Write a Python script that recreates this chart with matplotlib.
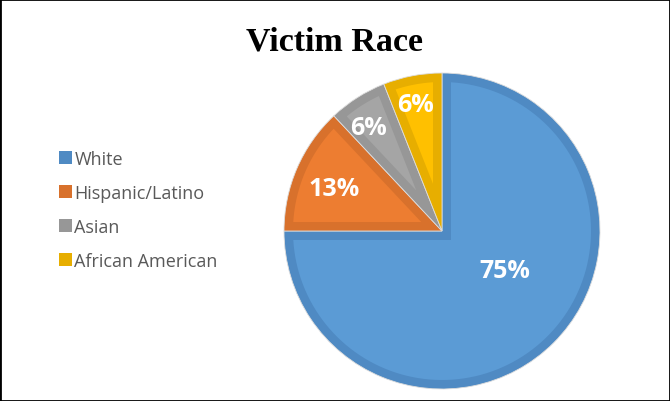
import numpy as np
import matplotlib.pyplot as plt
from matplotlib.patches import Polygon, Rectangle

# Victim race breakdown (percent)
races = ['White', 'Hispanic/Latino', 'Asian', 'African American']
shares = [75, 13, 6, 6]

fill_colors = ['#5B9BD5', '#ED7D31', '#A5A5A5', '#FFC000']
edge_colors = ['#4F8AC3', '#D8712C', '#979797', '#E7AE00']

fig = plt.figure(figsize=(6.7, 4.02), dpi=100)
ax = fig.add_axes([0, 0, 1, 1])

cx, cy, r = 442, 170, 158
bevel = 9

wedges, _, autotexts = ax.pie(
    shares, colors=edge_colors, startangle=90, counterclock=False,
    center=(cx, cy), radius=r, autopct=lambda p: f'{p:.0f}%',
    wedgeprops=dict(edgecolor='#DDDDDD', linewidth=0.6),
    textprops=dict(color='white', fontsize=18, fontweight='bold',
                   family='Open Sans'))

# lighter inner face of every slice (bevel look)
for w, col in zip(wedges, fill_colors):
    a1, a2 = np.radians(w.theta1), np.radians(w.theta2)
    half = (a2 - a1) / 2
    mid = (a1 + a2) / 2
    apex_d = bevel / np.sin(half)
    apex = (cx + apex_d * np.cos(mid), cy + apex_d * np.sin(mid))
    ri = r - bevel
    da = np.arcsin(bevel / ri)
    arc = np.linspace(a1 + da, a2 - da, 120)
    pts = [apex] + [(cx + ri * np.cos(t), cy + ri * np.sin(t)) for t in arc]
    ax.add_patch(Polygon(pts, closed=True, facecolor=col, edgecolor='none',
                         zorder=w.get_zorder() + 0.1))

# percent labels placed along each slice
label_dist = [0.47, 0.73, 0.80, 0.82]
label_shift = [13, 2, 3, 1]
for w, t, dist, sh in zip(wedges, autotexts, label_dist, label_shift):
    ang = np.radians((w.theta1 + w.theta2) / 2 + sh)
    t.set_position((cx + dist * r * np.cos(ang), cy + dist * r * np.sin(ang)))
    t.set_zorder(5)

ax.set_xlim(0, 670)
ax.set_ylim(0, 402)
ax.set_axis_off()

leg = ax.legend(wedges, races, loc='upper left',
                bbox_to_anchor=(50 / 670, 1 - 142 / 402), frameon=False,
                handlelength=0.7, handleheight=0.7, handletextpad=0.15,
                labelspacing=0.88, borderpad=0,
                prop=dict(family='Open Sans', size=13))
for txt in leg.get_texts():
    txt.set_color('#595959')
for h, col in zip(leg.legend_handles, edge_colors):
    h.set_edgecolor('none')
    h.set_facecolor(col)

fig.text(0.5, 1 - 42 / 402, 'Victim Race', ha='center', va='center',
         family='Liberation Serif', fontweight='bold', fontsize=24.5)

fig.patches.append(Rectangle((0, 0), 1, 1, transform=fig.transFigure,
                             fill=False, edgecolor='black', linewidth=2))

fig.savefig('out.png', dpi=100)
